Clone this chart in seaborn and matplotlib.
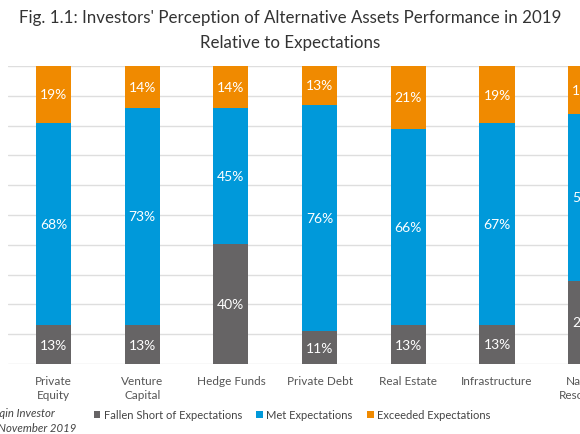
import matplotlib
matplotlib.use("Agg")
import matplotlib.pyplot as plt
import seaborn as sns
import numpy as np
import pandas as pd
from matplotlib.patches import Patch

categories = ["Private\nEquity", "Venture\nCapital", "Hedge Funds", "Private Debt",
              "Real Estate", "Infrastructure", "Natural\nResources"]
fallen_short = [13, 13, 40, 11, 13, 13, 28]
met = [68, 73, 45, 76, 66, 67, 56]
exceeded = [19, 14, 14, 13, 21, 19, 16]
series_names = ["Fallen Short of Expectations", "Met Expectations", "Exceeded Expectations"]
colors = ["#666465", "#0099DA", "#F08A00"]
title_line1 = "Fig. 1.1: Investors' Perception of Alternative Assets Performance in 2019"
title_line2 = "Relative to Expectations"
source_line1 = "Source: Preqin Investor"
source_line2 = "Interviews, November 2019"

sns.set_theme(style="white")
plt.rcParams['font.family'] = ['Lato', 'DejaVu Sans']

f = np.array(fallen_short, float)
m = np.array(met, float)
e = np.array(exceeded, float)
tot = f + m + e
fn, mn, en = f / tot * 100, m / tot * 100, e / tot * 100

df = pd.DataFrame({
    "cat": categories,
    "c1": fn,
    "c2": fn + mn,
    "c3": fn + mn + en,
})

fig = plt.figure(figsize=(5.8, 4.35), dpi=100)
# axes extends past the right edge of the figure (chart is cropped)
right_px = 680
ax = fig.add_axes([8 / 580, 70 / 435, (right_px - 8) / 580, 298 / 435])

W = 0.395
for col, c in zip(["c3", "c2", "c1"], colors[::-1]):
    sns.barplot(data=df, x="cat", y=col, color=c, width=W, ax=ax,
                saturation=1, linewidth=0, zorder=3)

ax.set_xlim((8 - 53.5) / 88.7, (right_px - 53.5) / 88.7)
ax.set_ylim(0, 100)
ax.set_yticks(np.arange(0, 101, 10))
ax.yaxis.grid(True, color="#dedede", linewidth=1.0, zorder=0)
ax.set_yticklabels([])
ax.tick_params(axis="y", length=0)
ax.tick_params(axis="x", length=0, pad=8, labelsize=8.5, labelcolor="#555555")
for s in ax.spines.values():
    s.set_visible(False)
ax.set_xlabel("")
ax.set_ylabel("")
for lbl in ax.get_xticklabels():
    lbl.set_linespacing(1.3)

for i in range(len(categories)):
    segs = [(0, fn[i], f[i]), (fn[i], fn[i] + mn[i], m[i]), (fn[i] + mn[i], 100, e[i])]
    for lo, hi, v in segs:
        ax.text(i, (lo + hi) / 2, f"{int(v)}%", ha="center", va="center",
                color="white", fontsize=10, zorder=5)

fig.text(290 / 580, 1 - 18 / 435, title_line1, ha="center", va="center",
         fontsize=12.2, color="#333333")
fig.text(290 / 580, 1 - 43 / 435, title_line2, ha="center", va="center",
         fontsize=12.2, color="#333333")

handles = [Patch(facecolor=c, edgecolor="none") for c in colors]
fig.legend(handles, series_names, loc="center", bbox_to_anchor=(292 / 580, 1 - 416 / 435),
           ncol=3, frameon=False, fontsize=8.0, handlelength=0.6, handleheight=0.6,
           handletextpad=0.3, columnspacing=1.3, labelcolor="#444444")

fig.text(55 / 580, 1 - 414 / 435, source_line1, ha="right", va="center",
         fontsize=8.2, style="italic", color="#444444")
fig.text(76 / 580, 1 - 428 / 435, source_line2, ha="right", va="center",
         fontsize=8.2, style="italic", color="#444444")

fig.savefig("out.png", dpi=100)
